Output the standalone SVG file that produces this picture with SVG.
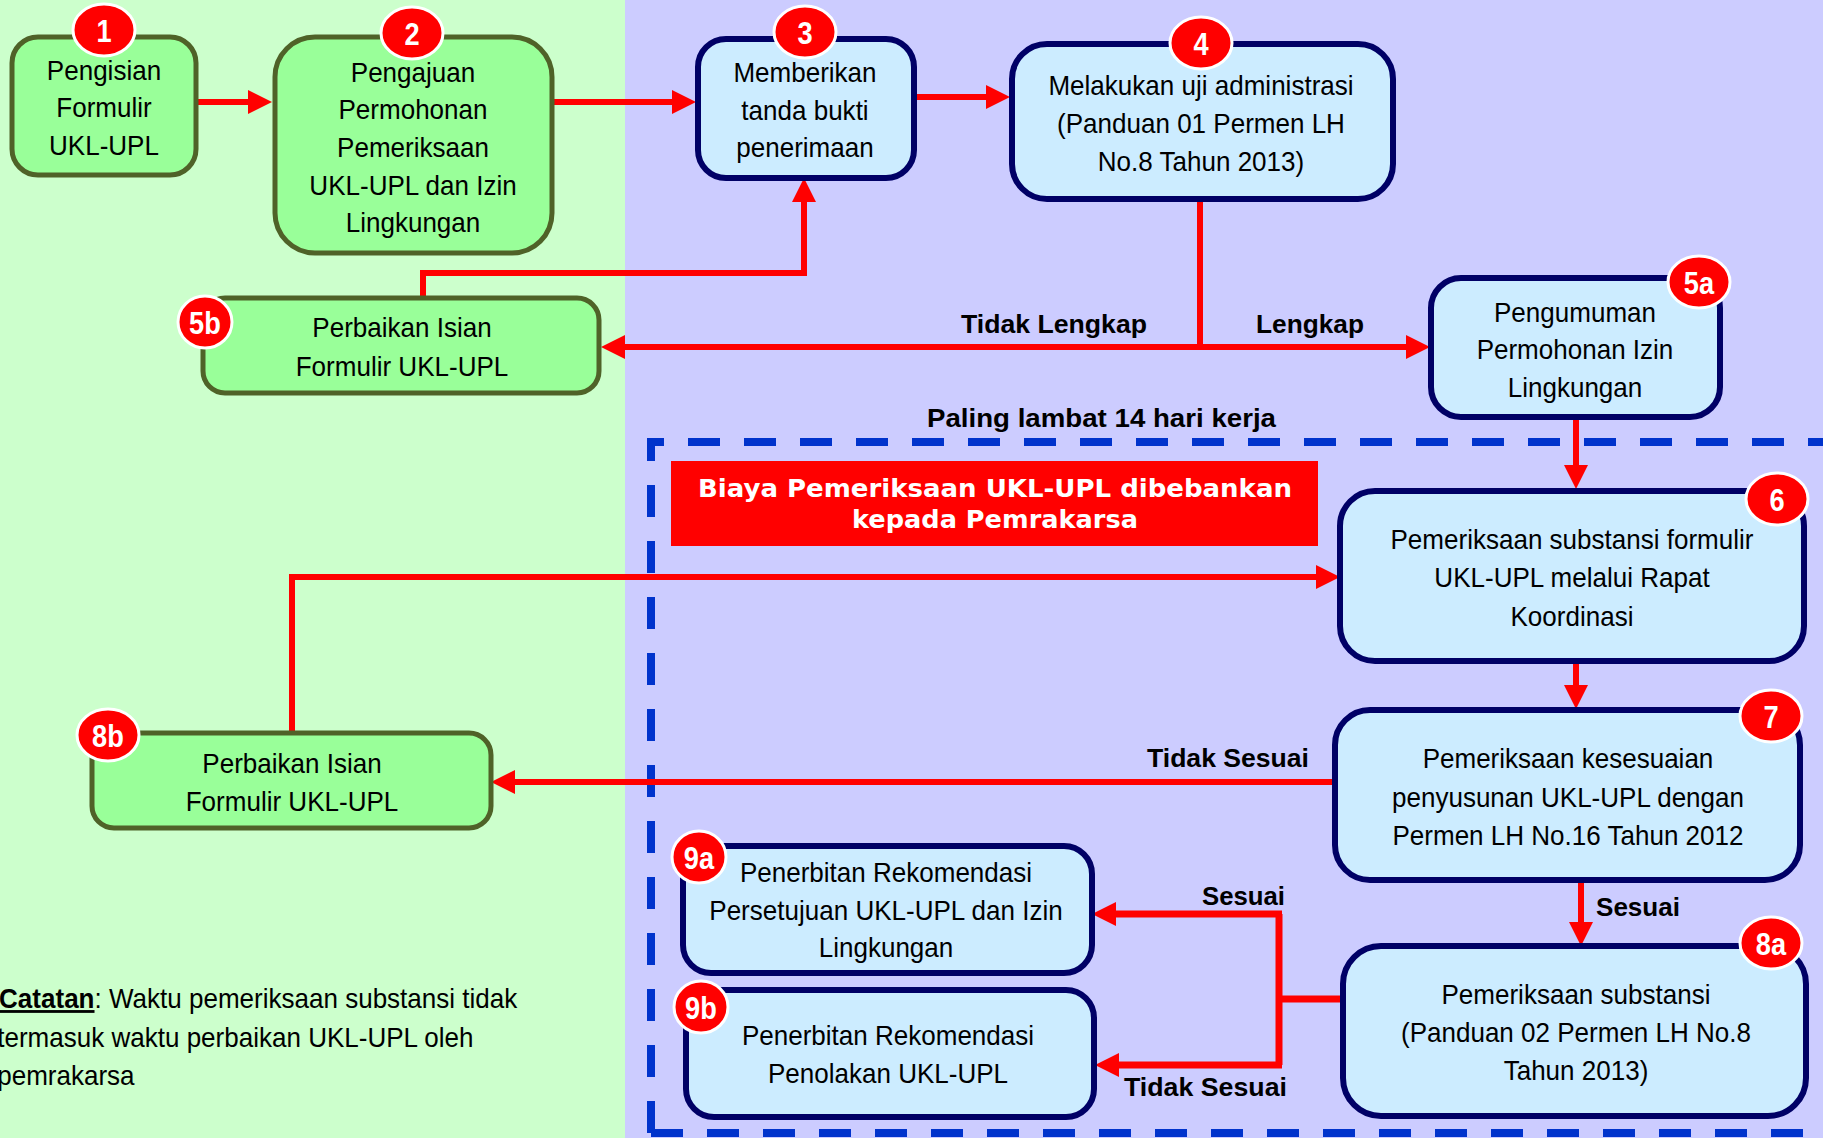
<svg xmlns="http://www.w3.org/2000/svg" width="1823" height="1138" viewBox="0 0 1823 1138">
<style>
.gbox{fill:#99FF99;stroke:#4F6228;stroke-width:5}
.bbox{fill:#CCECFF;stroke:#000066;stroke-width:6}
.t{font-family:"Liberation Sans",Arial,sans-serif;font-size:28px;fill:#000;text-anchor:middle}
.lbl{font-family:"Liberation Sans",Arial,sans-serif;font-size:26px;font-weight:bold;fill:#000}
.badge ellipse{fill:#FF0000;stroke:#FFFFFF;stroke-width:3}
.badge text{font-family:"Liberation Sans",Arial,sans-serif;font-size:32px;font-weight:bold;fill:#FFFFFF;text-anchor:middle}
.con{fill:none;stroke:#FF0000;stroke-width:6}
.arr{marker-end:url(#ah)}
</style>
<defs>
<marker id="ah" markerUnits="userSpaceOnUse" markerWidth="24" markerHeight="24" refX="0" refY="12" orient="auto" overflow="visible">
<path d="M0,0 L24,12 L0,24 z" fill="#FF0000"/>
</marker>
</defs>

<rect x="0" y="0" width="625" height="1138" fill="#CCFFCC"/>
<rect x="625" y="0" width="1198" height="1138" fill="#CCCCFF"/>

<g id="dashed-area" fill="none" stroke="#0033CC" stroke-width="8" stroke-dasharray="32 24">
<path d="M651,1133 V442 H1830"/>
<path d="M651,1133 H1830"/>
</g>

<g id="cost-note">
<rect x="671" y="461" width="647" height="85" fill="#FF0000"/>
<text x="995" y="497" font-family="'DejaVu Sans',Verdana,sans-serif" font-size="24" font-weight="bold" fill="#FFFFFF" text-anchor="middle" textLength="594" lengthAdjust="spacingAndGlyphs">Biaya Pemeriksaan UKL-UPL dibebankan</text>
<text x="995" y="528" font-family="'DejaVu Sans',Verdana,sans-serif" font-size="24" font-weight="bold" fill="#FFFFFF" text-anchor="middle" textLength="286" lengthAdjust="spacingAndGlyphs">kepada Pemrakarsa</text>
</g>

<g id="labels">
<text class="lbl" x="961" y="333" textLength="186" lengthAdjust="spacingAndGlyphs">Tidak Lengkap</text>
<text class="lbl" x="1256" y="333" textLength="108" lengthAdjust="spacingAndGlyphs">Lengkap</text>
<text class="lbl" x="927" y="427" textLength="349" lengthAdjust="spacingAndGlyphs">Paling lambat 14 hari kerja</text>
<text class="lbl" x="1147" y="767" textLength="162" lengthAdjust="spacingAndGlyphs">Tidak Sesuai</text>
<text class="lbl" x="1596" y="916" textLength="84" lengthAdjust="spacingAndGlyphs">Sesuai</text>
<text class="lbl" x="1202" y="905" textLength="83" lengthAdjust="spacingAndGlyphs">Sesuai</text>
<text class="lbl" x="1124" y="1096" textLength="163" lengthAdjust="spacingAndGlyphs">Tidak Sesuai</text>
</g>

<g id="note" transform="matrix(0.93,0,0,1,0,0)" font-family="'Liberation Sans',Arial,sans-serif" font-size="28" fill="#000">
<text x="-1" y="1008"><tspan font-weight="bold" text-decoration="underline">Catatan</tspan>: Waktu pemeriksaan substansi tidak</text>
<text x="-3" y="1047">termasuk waktu perbaikan UKL-UPL oleh</text>
<text x="-3" y="1085">pemrakarsa</text>
</g>

<g id="connectors">
<path class="con arr" d="M196,102 H248"/>
<path class="con arr" d="M552,102 H672"/>
<path class="con arr" d="M914,97 H986"/>
<path class="con" d="M1200,199 V347"/>
<path class="con arr" d="M1200,347 H625"/>
<path class="con arr" d="M1200,347 H1406"/>
<path class="con arr" d="M423,298 V273 H804 V202"/>
<path class="con arr" d="M1576,417 V465"/>
<path class="con arr" d="M292,733 V577 H1316"/>
<path class="con arr" d="M1576,661 V685"/>
<path class="con arr" d="M1335,782 H515"/>
<path class="con arr" d="M1581,880 V922"/>
<path class="con" style="stroke-width:7" d="M1343,999 H1279"/>
<path class="con" style="stroke-width:7" d="M1279,914 V1065"/>
<path class="con arr" style="stroke-width:7" d="M1282,914 H1116"/>
<path class="con arr" style="stroke-width:7" d="M1282,1065 H1119"/>
</g>

<g id="node1">
<rect class="gbox" x="12" y="37" width="184" height="138" rx="26"/>
<g transform="matrix(0.93,0,0,1,7.28,0)">
<text class="t" x="104" y="80">Pengisian</text>
<text class="t" x="104" y="117">Formulir</text>
<text class="t" x="104" y="155">UKL-UPL</text>
</g>
</g>
<g id="node2">
<rect class="gbox" x="275" y="37" width="277" height="216" rx="40"/>
<g transform="matrix(0.93,0,0,1,28.91,0)">
<text class="t" x="413" y="82">Pengajuan</text>
<text class="t" x="413" y="119">Permohonan</text>
<text class="t" x="413" y="157">Pemeriksaan</text>
<text class="t" x="413" y="195">UKL-UPL dan Izin</text>
<text class="t" x="413" y="232">Lingkungan</text>
</g>
</g>
<g id="node3">
<rect class="bbox" x="698" y="39" width="216" height="139" rx="28"/>
<g transform="matrix(0.93,0,0,1,56.35,0)">
<text class="t" x="805" y="82">Memberikan</text>
<text class="t" x="805" y="120">tanda bukti</text>
<text class="t" x="805" y="157">penerimaan</text>
</g>
</g>
<g id="node4">
<rect class="bbox" x="1012" y="44" width="381" height="155" rx="35"/>
<g transform="matrix(0.93,0,0,1,84.07,0)">
<text class="t" x="1201" y="95">Melakukan uji administrasi</text>
<text class="t" x="1201" y="133">(Panduan 01 Permen LH</text>
<text class="t" x="1201" y="171">No.8 Tahun 2013)</text>
</g>
</g>
<g id="node5a">
<rect class="bbox" x="1431" y="278" width="289" height="139" rx="30"/>
<g transform="matrix(0.93,0,0,1,110.25,0)">
<text class="t" x="1575" y="322">Pengumuman</text>
<text class="t" x="1575" y="359">Permohonan Izin</text>
<text class="t" x="1575" y="397">Lingkungan</text>
</g>
</g>
<g id="node5b">
<rect class="gbox" x="203" y="298" width="396" height="95" rx="22"/>
<g transform="matrix(0.93,0,0,1,28.14,0)">
<text class="t" x="402" y="337">Perbaikan Isian</text>
<text class="t" x="402" y="376">Formulir UKL-UPL</text>
</g>
</g>
<g id="node6">
<rect class="bbox" x="1340" y="491" width="464" height="170" rx="35"/>
<g transform="matrix(0.93,0,0,1,110.04,0)">
<text class="t" x="1572" y="549">Pemeriksaan substansi formulir</text>
<text class="t" x="1572" y="587">UKL-UPL melalui Rapat</text>
<text class="t" x="1572" y="626">Koordinasi</text>
</g>
</g>
<g id="node7">
<rect class="bbox" x="1335" y="710" width="465" height="170" rx="35"/>
<g transform="matrix(0.93,0,0,1,109.76,0)">
<text class="t" x="1568" y="768">Pemeriksaan kesesuaian</text>
<text class="t" x="1568" y="807">penyusunan UKL-UPL dengan</text>
<text class="t" x="1568" y="845">Permen LH No.16 Tahun 2012</text>
</g>
</g>
<g id="node8a">
<rect class="bbox" x="1343" y="946" width="463" height="170" rx="38"/>
<g transform="matrix(0.93,0,0,1,110.32,0)">
<text class="t" x="1576" y="1004">Pemeriksaan substansi</text>
<text class="t" x="1576" y="1042">(Panduan 02 Permen LH No.8</text>
<text class="t" x="1576" y="1080">Tahun 2013)</text>
</g>
</g>
<g id="node8b">
<rect class="gbox" x="92" y="733" width="399" height="95" rx="22"/>
<g transform="matrix(0.93,0,0,1,20.44,0)">
<text class="t" x="292" y="773">Perbaikan Isian</text>
<text class="t" x="292" y="811">Formulir UKL-UPL</text>
</g>
</g>
<g id="node9a">
<rect class="bbox" x="683" y="846" width="409" height="127" rx="28"/>
<g transform="matrix(0.93,0,0,1,62.02,0)">
<text class="t" x="886" y="882">Penerbitan Rekomendasi</text>
<text class="t" x="886" y="920">Persetujuan UKL-UPL dan Izin</text>
<text class="t" x="886" y="957">Lingkungan</text>
</g>
</g>
<g id="node9b">
<rect class="bbox" x="686" y="990" width="408" height="127" rx="28"/>
<g transform="matrix(0.93,0,0,1,62.16,0)">
<text class="t" x="888" y="1045">Penerbitan Rekomendasi</text>
<text class="t" x="888" y="1083">Penolakan UKL-UPL</text>
</g>
</g>

<g id="badges">
<g class="badge" id="badge1"><ellipse cx="104" cy="30" rx="31" ry="26"/><text transform="matrix(0.85,0,0,1,15.6,0)" x="104" y="42">1</text></g>
<g class="badge" id="badge2"><ellipse cx="412" cy="33" rx="31" ry="26"/><text transform="matrix(0.85,0,0,1,61.8,0)" x="412" y="45">2</text></g>
<g class="badge" id="badge3"><ellipse cx="805" cy="32" rx="31" ry="26"/><text transform="matrix(0.85,0,0,1,120.75,0)" x="805" y="44">3</text></g>
<g class="badge" id="badge4"><ellipse cx="1201" cy="43" rx="31" ry="26"/><text transform="matrix(0.85,0,0,1,180.15,0)" x="1201" y="55">4</text></g>
<g class="badge" id="badge5a"><ellipse cx="1699" cy="282" rx="31" ry="26"/><text transform="matrix(0.85,0,0,1,254.85,0)" x="1699" y="294">5a</text></g>
<g class="badge" id="badge5b"><ellipse cx="205" cy="322" rx="27" ry="26"/><text transform="matrix(0.85,0,0,1,30.75,0)" x="205" y="334">5b</text></g>
<g class="badge" id="badge6"><ellipse cx="1777" cy="499" rx="31" ry="26"/><text transform="matrix(0.85,0,0,1,266.55,0)" x="1777" y="511">6</text></g>
<g class="badge" id="badge7"><ellipse cx="1771" cy="716" rx="31" ry="26"/><text transform="matrix(0.85,0,0,1,265.65,0)" x="1771" y="728">7</text></g>
<g class="badge" id="badge8a"><ellipse cx="1771" cy="943" rx="31" ry="26"/><text transform="matrix(0.85,0,0,1,265.65,0)" x="1771" y="955">8a</text></g>
<g class="badge" id="badge8b"><ellipse cx="108" cy="735" rx="31" ry="26"/><text transform="matrix(0.85,0,0,1,16.2,0)" x="108" y="747">8b</text></g>
<g class="badge" id="badge9a"><ellipse cx="699" cy="857" rx="27" ry="26"/><text transform="matrix(0.85,0,0,1,104.85,0)" x="699" y="869">9a</text></g>
<g class="badge" id="badge9b"><ellipse cx="701" cy="1007" rx="27" ry="26"/><text transform="matrix(0.85,0,0,1,105.15,0)" x="701" y="1019">9b</text></g>
</g>
</svg>
